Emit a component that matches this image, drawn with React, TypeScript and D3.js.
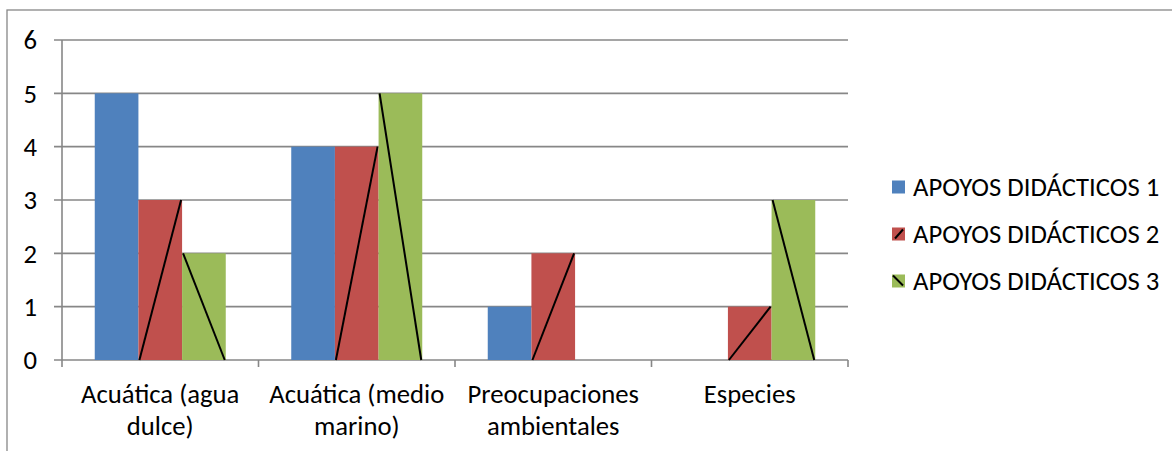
import React, { useEffect, useRef } from "react";
import * as d3 from "d3";

const categories = [
  ["Acuática (agua", "dulce)"],
  ["Acuática (medio", "marino)"],
  ["Preocupaciones", "ambientales"],
  ["Especies"],
];
const seriesNames = ["APOYOS DIDÁCTICOS 1", "APOYOS DIDÁCTICOS 2", "APOYOS DIDÁCTICOS 3"];
const series1 = [5, 4, 1, 0];
const series2 = [3, 4, 2, 1];
const series3 = [2, 5, 0, 3];
const yTicks = [0, 1, 2, 3, 4, 5, 6];

const colors = ["#4F81BD", "#C0504D", "#9BBB59"];
// diagonal stroke drawn across each bar: none, rising, falling
const diagonals = ["none", "up", "down"];

const W = 1172;
const H = 451;
const FONT = "Carlito, 'Open Sans', sans-serif";
const FS = 26.7;

export default function App() {
  const ref = useRef<SVGSVGElement | null>(null);

  useEffect(() => {
    const svg = d3.select(ref.current);
    svg.selectAll("*").remove();

    const plot = { left: 62, right: 848, top: 40, bottom: 360 };
    const values = [series1, series2, series3];
    const keys = categories.map((c) => c.join(" "));

    const x = d3.scaleBand<string>().domain(keys).range([plot.left, plot.right]).padding(0);
    const xs = d3
      .scaleBand<number>()
      .domain([0, 1, 2])
      .range([0, x.bandwidth()])
      .paddingInner(0)
      .paddingOuter(0.75);
    const y = d3.scaleLinear().domain([0, 6]).range([plot.bottom, plot.top]);

    const gridColor = "#878787";

    // chart frame
    svg
      .append("rect")
      .attr("x", 7)
      .attr("y", 10)
      .attr("width", W + 20)
      .attr("height", H + 20)
      .attr("fill", "none")
      .attr("stroke", gridColor)
      .attr("stroke-width", 1.3);

    // horizontal gridlines with left tick marks
    svg
      .append("g")
      .selectAll("line")
      .data(yTicks)
      .join("line")
      .attr("x1", plot.left - 8)
      .attr("x2", plot.right)
      .attr("y1", (d) => y(d))
      .attr("y2", (d) => y(d))
      .attr("stroke", gridColor)
      .attr("stroke-width", 1.6);

    // y axis line
    svg
      .append("line")
      .attr("x1", plot.left)
      .attr("x2", plot.left)
      .attr("y1", plot.top)
      .attr("y2", plot.bottom)
      .attr("stroke", gridColor)
      .attr("stroke-width", 1.6);

    // category boundary ticks on x axis
    const bounds = keys.map((k) => x(k) as number).concat([plot.right]);
    svg
      .append("g")
      .selectAll("line")
      .data(bounds)
      .join("line")
      .attr("x1", (d) => d)
      .attr("x2", (d) => d)
      .attr("y1", plot.bottom)
      .attr("y2", plot.bottom + 7)
      .attr("stroke", gridColor)
      .attr("stroke-width", 1.6);

    // y tick labels
    svg
      .append("g")
      .selectAll("text")
      .data(yTicks)
      .join("text")
      .attr("x", 37)
      .attr("y", (d) => y(d))
      .attr("dy", "0.35em")
      .attr("text-anchor", "end")
      .attr("font-family", FONT)
      .attr("font-size", FS)
      .attr("fill", "#000")
      .text((d) => d);

    // bars
    values.forEach((vals, si) => {
      const g = svg.append("g");
      vals.forEach((v, ci) => {
        if (v <= 0) return;
        const x0 = (x(keys[ci]) as number) + (xs(si) as number);
        const bw = xs.bandwidth();
        g.append("rect")
          .attr("x", x0)
          .attr("y", y(v))
          .attr("width", bw)
          .attr("height", y(0) - y(v))
          .attr("fill", colors[si]);
        if (diagonals[si] === "up") {
          g.append("line")
            .attr("x1", x0 + 1)
            .attr("y1", y(0))
            .attr("x2", x0 + bw - 1)
            .attr("y2", y(v))
            .attr("stroke", "#000")
            .attr("stroke-width", 2);
        } else if (diagonals[si] === "down") {
          g.append("line")
            .attr("x1", x0 + 1)
            .attr("y1", y(v))
            .attr("x2", x0 + bw - 1)
            .attr("y2", y(0))
            .attr("stroke", "#000")
            .attr("stroke-width", 2);
        }
      });
    });

    // category labels
    const lab = svg.append("g");
    categories.forEach((lines, ci) => {
      const cx = (x(keys[ci]) as number) + x.bandwidth() / 2;
      const t = lab
        .append("text")
        .attr("text-anchor", "middle")
        .attr("font-family", FONT)
        .attr("font-size", FS)
        .attr("fill", "#000");
      lines.forEach((ln, li) => {
        t.append("tspan").attr("x", cx).attr("y", 403 + li * 32).text(ln);
      });
    });

    // legend
    const leg = svg.append("g");
    seriesNames.forEach((name, si) => {
      const cy = 187 + si * 47;
      const s = 13;
      const lx = 892;
      leg
        .append("rect")
        .attr("x", lx)
        .attr("y", cy - s / 2)
        .attr("width", s)
        .attr("height", s)
        .attr("fill", colors[si]);
      if (diagonals[si] === "up") {
        leg
          .append("line")
          .attr("x1", lx + 3)
          .attr("y1", cy + s / 2 - 2)
          .attr("x2", lx + s - 2)
          .attr("y2", cy - s / 2 + 2)
          .attr("stroke", "#000")
          .attr("stroke-width", 2);
      } else if (diagonals[si] === "down") {
        leg
          .append("line")
          .attr("x1", lx + 1)
          .attr("y1", cy - s / 2 + 1)
          .attr("x2", lx + s - 2)
          .attr("y2", cy + s / 2 - 2)
          .attr("stroke", "#000")
          .attr("stroke-width", 2);
      }
      leg
        .append("text")
        .attr("x", 913)
        .attr("y", cy)
        .attr("dy", "0.35em")
        .attr("font-family", FONT)
        .attr("font-size", FS)
        .attr("fill", "#000")
        .text(name);
    });
  }, []);

  return (
    <svg
      ref={ref}
      width={W}
      height={H}
      style={{ position: "fixed", left: 0, top: 0, background: "#fff" }}
    />
  );
}
